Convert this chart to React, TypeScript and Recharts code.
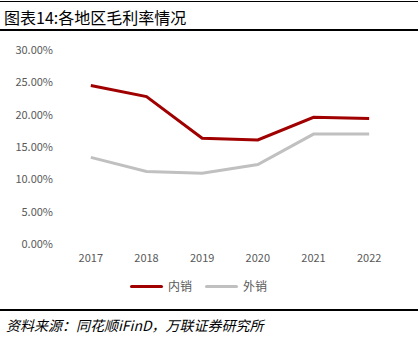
import { Legend, Line, LineChart, XAxis, YAxis } from "recharts";

const years = [2017, 2018, 2019, 2020, 2021, 2022];
const domesticMargin = [24.5, 22.8, 16.35, 16.1, 19.6, 19.4];
const exportMargin = [13.4, 11.2, 10.95, 12.3, 17.0, 17.0];
const yTicks = [0, 5, 10, 15, 20, 25, 30];
const bandEdges = [2016.5, 2017.5, 2018.5, 2019.5, 2020.5, 2021.5, 2022.5];

const data = years.map((year, i) => ({
  year,
  domestic: domesticMargin[i],
  export: exportMargin[i],
}));

const tickStyle = { fill: "#595959", fontSize: 11, fontFamily: "'Noto Sans CJK SC', 'Noto Sans', sans-serif" };

function LegendContent({ payload }: { payload?: any[] }) {
  return (
    <div style={{ display: "flex", justifyContent: "center", alignItems: "center", gap: 13 }}>
      {(payload ?? []).map((p) => (
        <div key={p.value} style={{ display: "flex", alignItems: "center", gap: 5 }}>
          <span style={{ display: "inline-block", width: 33, height: 3, background: p.color, borderRadius: 2 }} />
          <span style={{ fontSize: 12, lineHeight: "16px", color: "#595959", fontFamily: "'Noto Sans CJK SC', sans-serif" }}>{p.value}</span>
        </div>
      ))}
    </div>
  );
}

export default function App() {
  return (
    <div style={{ position: "absolute", left: 0, top: 0, width: 418, height: 353, background: "#fff", overflow: "hidden" }}>
      <div style={{ position: "absolute", left: 0, top: 1, width: 418, height: 1, background: "#000" }} />
      <div
        style={{
          position: "absolute",
          left: 4,
          top: 6,
          fontSize: 16,
          lineHeight: "22px",
          color: "#000",
          fontFamily: "'Noto Sans CJK SC', sans-serif",
        }}
      >
        图表14:各地区毛利率情况
      </div>
      <div style={{ position: "absolute", left: 0, top: 29, width: 418, height: 2, background: "#000" }} />
      <div style={{ position: "absolute", left: 0, top: 0 }}>
        <LineChart width={418} height={320} data={data} margin={{ top: 50, right: 21, left: 0, bottom: 12 }}>
          <XAxis
            xAxisId="edges"
            type="number"
            dataKey="year"
            domain={[2016.5, 2022.5]}
            ticks={bandEdges}
            tick={false}
            height={0}
            tickSize={5}
            axisLine={{ stroke: "#D9D9D9" }}
            tickLine={{ stroke: "#D9D9D9" }}
          />
          <XAxis
            xAxisId="years"
            type="number"
            dataKey="year"
            domain={[2016.5, 2022.5]}
            ticks={years}
            axisLine={false}
            tickLine={false}
            tickSize={8}
            tickMargin={2}
            height={34}
            tick={tickStyle}
          />
          <YAxis
            domain={[0, 30]}
            ticks={yTicks}
            width={63}
            axisLine={false}
            tickLine={false}
            tickMargin={4}
            tick={tickStyle}
            tickFormatter={(v: number) => `${v.toFixed(2)}%`}
          />
          <Legend verticalAlign="bottom" height={30} content={<LegendContent />} />
          <Line
            xAxisId="years"
            dataKey="domestic"
            name="内销"
            stroke="#A00000"
            strokeWidth={3}
            dot={false}
            isAnimationActive={false}
          />
          <Line
            xAxisId="years"
            dataKey="export"
            name="外销"
            stroke="#C0C0C0"
            strokeWidth={3}
            dot={false}
            isAnimationActive={false}
          />
        </LineChart>
      </div>
      <div style={{ position: "absolute", left: 0, top: 309, width: 418, height: 2, background: "#000" }} />
      <div
        style={{
          position: "absolute",
          left: 6,
          top: 316,
          fontSize: 14,
          lineHeight: "18px",
          fontStyle: "italic",
          color: "#000",
          fontFamily: "'Noto Sans CJK SC', sans-serif",
        }}
      >
        资料来源：同花顺iFinD，万联证券研究所
      </div>
    </div>
  );
}
